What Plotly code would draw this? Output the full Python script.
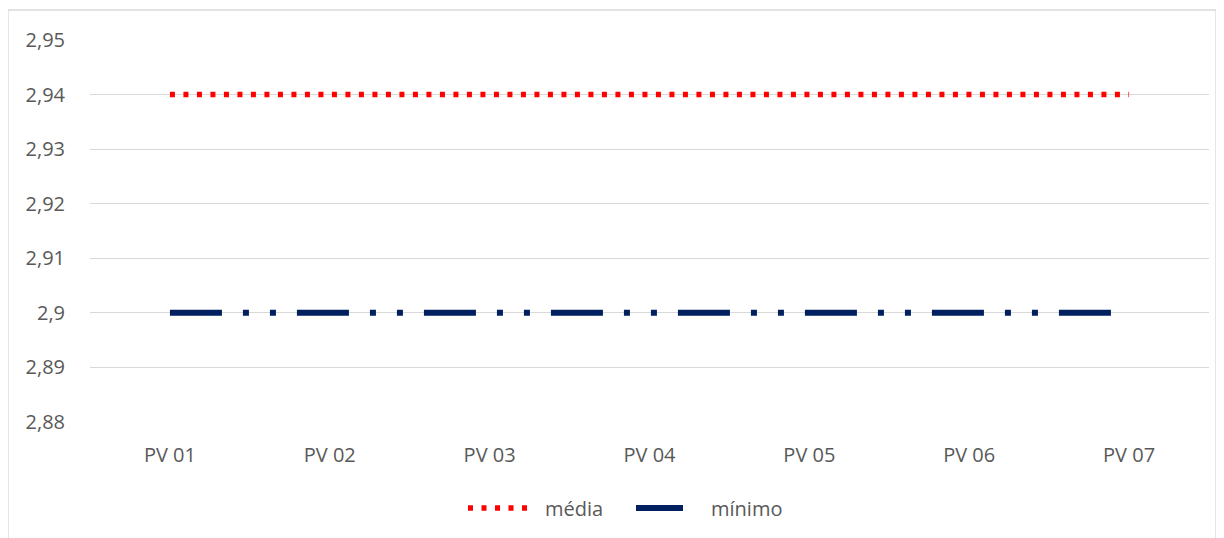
import plotly.graph_objects as go

categories = ["PV 01", "PV 02", "PV 03", "PV 04", "PV 05", "PV 06", "PV 07"]
media = [2.94, 2.94, 2.94, 2.94, 2.94, 2.94, 2.94]
minimo = [2.90, 2.90, 2.90, 2.90, 2.90, 2.90, 2.90]
y_ticks = [2.88, 2.89, 2.90, 2.91, 2.92, 2.93, 2.94, 2.95]
series_names = ["média", "mínimo"]
series_colors = ["#FF0000", "#002060"]
series_dash = ["5px,8.5px", "52px,21px,6px,21px,6px,21px"]

W, H = 1224, 538
L, R, T, B = 82, 23, 32, 124
pw, ph = W - L - R, H - T - B

def px_x(x):
    return (x - L) / pw

def px_y(y):
    return (H - B - y) / ph

fig = go.Figure()
for name, vals, col, dash in zip(series_names, [media, minimo], series_colors, series_dash):
    fig.add_trace(go.Scatter(
        x=categories, y=vals, mode="lines", name=name, showlegend=False,
        line=dict(color=col, width=6 if name == "mínimo" else 5.5, dash=dash),
    ))

font = dict(family="Open Sans, Liberation Sans, sans-serif", size=20, color="#595959")

# custom legend (symbols + labels) below the plot
leg_y = 500
shapes = [dict(
    type="rect", xref="paper", yref="paper",
    x0=px_x(0), x1=px_x(1208), y0=px_y(560), y1=px_y(2),
    line=dict(color="#D9D9D9", width=1.3), fillcolor="rgba(0,0,0,0)", layer="below",
)]
shapes.append(dict(type="line", xref="paper", yref="paper",
                   x0=px_x(460), x1=px_x(520), y0=px_y(leg_y), y1=px_y(leg_y),
                   line=dict(color=series_colors[0], width=5.5, dash="5px,8.5px")))
shapes.append(dict(type="line", xref="paper", yref="paper",
                   x0=px_x(628), x1=px_x(675), y0=px_y(leg_y), y1=px_y(leg_y),
                   line=dict(color=series_colors[1], width=6)))
annotations = [
    dict(text=series_names[0], xref="paper", yref="paper", x=px_x(535), y=px_y(leg_y),
         xanchor="left", yanchor="middle", showarrow=False, font=font),
    dict(text=series_names[1], xref="paper", yref="paper", x=px_x(701), y=px_y(leg_y),
         xanchor="left", yanchor="middle", showarrow=False, font=font),
]

fig.update_layout(
    width=W, height=H,
    margin=dict(l=L, r=R, t=T, b=B),
    paper_bgcolor="white", plot_bgcolor="white",
    separators=",.",
    font=font,
    showlegend=False,
    xaxis=dict(
        type="category", range=[-0.5, 6.5], showgrid=False, zeroline=False,
        showline=False, ticks="outside", ticklen=15, tickcolor="rgba(0,0,0,0)",
        tickfont=font,
    ),
    yaxis=dict(
        range=[2.88, 2.95], tickvals=y_ticks, showgrid=True, gridcolor="#D9D9D9",
        gridwidth=1.3, zeroline=False, showline=False, ticks="outside", ticklen=20,
        tickcolor="rgba(0,0,0,0)", tickfont=font,
    ),
    shapes=shapes,
    annotations=annotations,
)

fig.write_html("out.html")
